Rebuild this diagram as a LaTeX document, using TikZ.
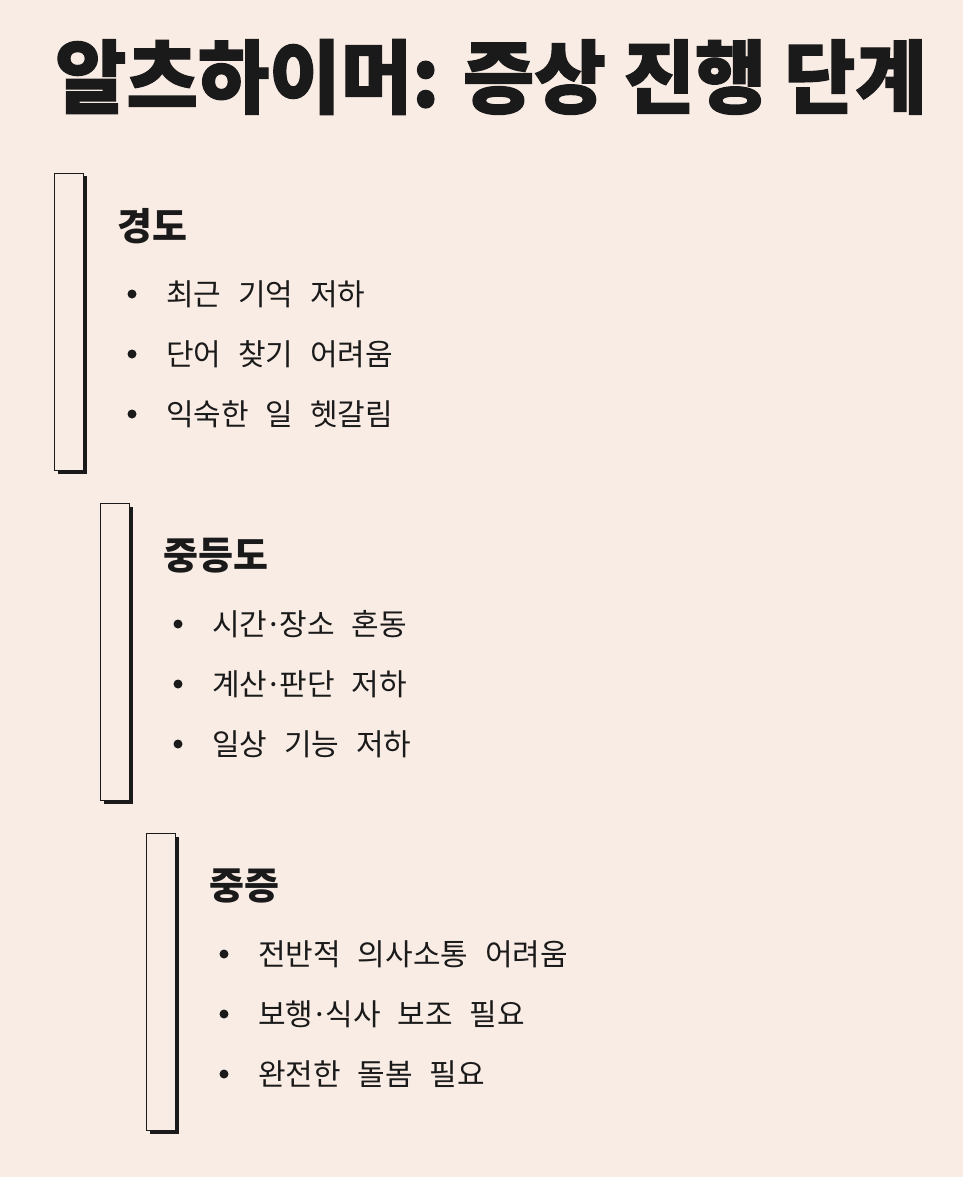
\documentclass[tikz,border=0pt]{standalone}
\usepackage{fontspec}
\setmainfont{Noto Sans CJK KR}
\newfontfamily\titlefont[FakeStretch=0.97,FakeBold=1.5]{Noto Sans CJK KR}
\newfontfamily\itemfont[WordSpace=2.5]{Noto Sans CJK KR}
\newcommand\middot{\makebox[12pt]{·}}
\usetikzlibrary{shadows}
\definecolor{paper}{HTML}{F9ECE5}
\definecolor{ink}{HTML}{1A1A1A}
\tikzstyle{stagebar}=[draw=ink,line width=1.5pt,fill=paper,minimum width=29pt,minimum height=297pt,inner sep=0pt,
  drop shadow={shadow xshift=3pt,shadow yshift=-3pt,fill=ink,opacity=1}]
\tikzstyle{heading}=[anchor=west,inner sep=0pt,text=ink,font=\fontsize{38}{42}\selectfont\bfseries]
\tikzstyle{item}=[anchor=west,inner sep=0pt,text=ink,font=\itemfont\fontsize{30}{34}\selectfont]
\tikzstyle{dot}=[fill=ink,circle,inner sep=0pt,minimum size=9pt]

\begin{document}
\begin{tikzpicture}[x=1pt,y=-1pt]
      \fill[paper] (0,0) rectangle (963,1177);
      \useasboundingbox (0,0) rectangle (963,1177);

      \node[text=ink,font=\titlefont\fontsize{80}{84}\selectfont\bfseries] (title) at (491,77) {알츠하이머: 증상 진행 단계};

      \foreach \i/\stage/\sa/\sb/\sc in {0/경도/최근 기억 저하/단어 찾기 어려움/익숙한 일 헷갈림,
        1/중등도/시간\middot 장소 혼동/계산\middot 판단 저하/일상 기능 저하,
        2/중증/전반적 의사소통 어려움/보행\middot 식사 보조 필요/완전한 돌봄 필요}{
        \begin{scope}[shift={(46*\i,330*\i)}]
          \node[stagebar] (bar\i) at (69,322) {};
          \node[heading] (head\i) at (117,226) {\stage};
          \foreach \j/\txt in {0/\sa,1/\sb,2/\sc}{
            \node[dot] (dot\i\j) at (132,294+60*\j) {};
            \node[item] (item\i\j) at (166,294+60*\j) {\txt};
          }
        \end{scope}
      }
\end{tikzpicture}
\end{document}
